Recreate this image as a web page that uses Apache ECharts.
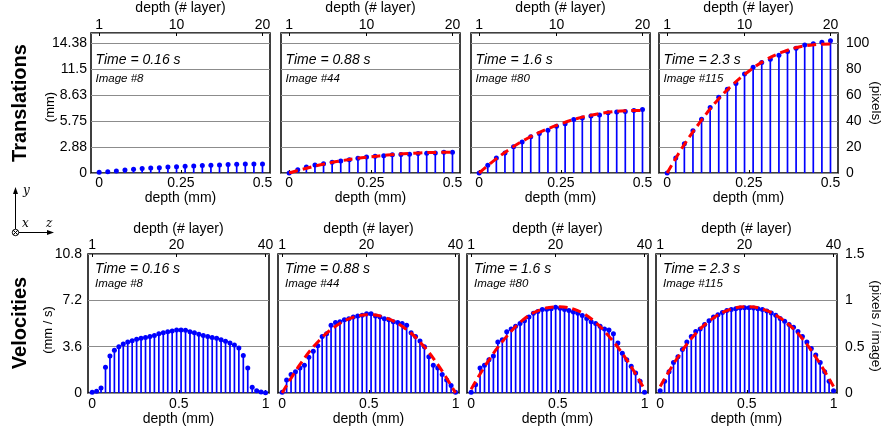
<!DOCTYPE html>
<html>
<head>
<meta charset="utf-8">
<script src="https://cdn.jsdelivr.net/npm/echarts@6/dist/echarts.min.js"></script>
<style>
  html, body { margin: 0; padding: 0; background: #fff; }
  #chart { width: 883px; height: 433px; }
</style>
</head>
<body>
<div id="chart"></div>
<script>
// captions of the four columns
const times = ["0.16", "0.88", "1.6", "2.3"];
const images = ["8", "44", "80", "115"];

// translations in pixels, one stem per layer (20 layers)
const trans1 = [0.5, 1, 1.5, 2.3, 2.8, 3.4, 3.9, 4.1, 4.7, 4.9, 5.2, 5.4, 5.7, 6, 6.2, 6.5, 6.7, 7, 7, 7];
const trans2 = [0, 2.6, 4.7, 6.2, 7.2, 8.3, 9.3, 10.3, 11.4, 12.4, 12.9, 13.4, 14, 14.2, 14.5, 15, 15.2, 15.5, 16, 16];
const trans3 = [0, 5.9, 11.6, 15.5, 20.2, 24, 28, 30.5, 33, 36, 38, 41.3, 42.4, 43.9, 44.7, 46.5, 47, 47.5, 48.3, 49];
const trans4 = [0, 11.5, 22.5, 32.5, 41.5, 50.5, 58.5, 64.7, 69, 76.3, 81.5, 85.2, 87.7, 90.8, 93.7, 96.2, 98.8, 99.7, 100.8, 102];

// dashed fits of the translations, sampled along depth (mm)
const transCurveDepth = [0, 0.05, 0.1, 0.15, 0.2, 0.25, 0.3, 0.35, 0.4, 0.45, 0.5];
const transCurve2 = [0, 3.5, 6.5, 9, 11, 12.5, 13.8, 14.8, 15.5, 15.9, 16];
const transCurve3 = [0, 10.5, 19.5, 27, 33, 38, 42, 45, 47, 48, 48.3];
const transCurve4 = [0, 21, 39, 55, 68, 78.5, 87, 93, 97, 99, 99.5];

// velocities in pixels / image, one stem per layer (40 layers)
const vel1 = [0.007, 0.02, 0.054, 0.277, 0.40, 0.46, 0.50, 0.53, 0.55, 0.565, 0.58, 0.59, 0.60, 0.61, 0.62, 0.64, 0.65, 0.66, 0.67, 0.68,
              0.68, 0.676, 0.66, 0.65, 0.633, 0.62, 0.61, 0.60, 0.59, 0.575, 0.558, 0.54, 0.518, 0.486, 0.406, 0.27, 0.061, 0.025, 0.011, 0.004];
const vel2 = [0.007, 0.14, 0.2, 0.23, 0.27, 0.3, 0.385, 0.45, 0.51, 0.61, 0.64, 0.73, 0.76, 0.77, 0.79, 0.80, 0.82, 0.83, 0.84, 0.856,
              0.856, 0.83, 0.82, 0.80, 0.79, 0.77, 0.76, 0.75, 0.73, 0.65, 0.61, 0.56, 0.5, 0.39, 0.30, 0.27, 0.2, 0.14, 0.08, 0.007];
const vel3 = [0.007, 0.09, 0.27, 0.3, 0.36, 0.4, 0.55, 0.575, 0.66, 0.69, 0.72, 0.75, 0.78, 0.82, 0.86, 0.88, 0.9, 0.905, 0.91, 0.925,
              0.915, 0.9, 0.89, 0.875, 0.86, 0.835, 0.805, 0.77, 0.75, 0.72, 0.69, 0.68, 0.64, 0.54, 0.43, 0.36, 0.29, 0.216, 0.126, 0.007];
const vel4 = [0.025, 0.126, 0.23, 0.33, 0.39, 0.47, 0.55, 0.61, 0.665, 0.69, 0.74, 0.78, 0.82, 0.845, 0.87, 0.89, 0.9, 0.91, 0.917, 0.92,
              0.92, 0.917, 0.91, 0.9, 0.885, 0.863, 0.84, 0.805, 0.775, 0.74, 0.71, 0.665, 0.61, 0.55, 0.48, 0.41, 0.33, 0.23, 0.126, 0.025];

// dashed fits of the velocities
const velCurveDepth = [0, 0.1, 0.2, 0.3, 0.4, 0.5, 0.6, 0.7, 0.8, 0.9, 1];
const velCurve2 = [0, 0.30, 0.54, 0.71, 0.81, 0.845, 0.81, 0.71, 0.54, 0.30, 0];
const velCurve3 = [0.04, 0.35, 0.6, 0.79, 0.9, 0.93, 0.9, 0.79, 0.6, 0.35, 0.04];
const velCurve4 = [0.07, 0.38, 0.63, 0.8, 0.9, 0.93, 0.9, 0.8, 0.63, 0.38, 0.07];

// ticks
const transDepthTicks = [0, 0.25, 0.5];
const transLayerTicks = [1, 10, 20];
const transMmLabels = ["0", "2.88", "5.75", "8.63", "11.5", "14.38"];
const transPixelLabels = ["0", "20", "40", "60", "80", "100"];
const velDepthTicks = [0, 0.5, 1];
const velLayerTicks = [1, 20, 40];
const velMmLabels = ["0", "3.6", "7.2", "10.8"];
const velPixelLabels = ["0", "0.5", "1", "1.5"];

const FONT = "Liberation Sans, Arial, Helvetica, sans-serif";
const BLUE = "#0000ff";
const RED = "#ff0000";

const rows = [
  {
    top: 33, height: 140, width: 179, lefts: [91, 281, 471, 659],
    dMin: -0.025, dMax: 0.523, dEnd: 0.5,
    stems: [trans1, trans2, trans3, trans4],
    curves: [null, transCurve2, transCurve3, transCurve4], curveDepth: transCurveDepth,
    depthTicks: transDepthTicks, layerTicks: transLayerTicks,
    yMax: 108, yStep: 20, leftLabels: transMmLabels, rightLabels: transPixelLabels,
    leftMargin: 4, capDx: 4.5, capY: [60, 79],
    xLabMargin: 3, xNameGap: 17, topLabMargin: 1, topNameGap: 17.5
  },
  {
    top: 254, height: 139, width: 181, lefts: [88, 278, 467, 656],
    dMin: -0.024, dMax: 1.02, dEnd: 1,
    stems: [vel1, vel2, vel3, vel4],
    curves: [null, velCurve2, velCurve3, velCurve4], curveDepth: velCurveDepth,
    depthTicks: velDepthTicks, layerTicks: velLayerTicks,
    yMax: 1.5, yStep: 0.5, leftLabels: velMmLabels, rightLabels: velPixelLabels,
    leftMargin: 6, capDx: 7, capY: [269, 284],
    xLabMargin: 4, xNameGap: 19.5, topLabMargin: 2, topNameGap: 18
  }
];

const grid = [], xAxis = [], yAxis = [], series = [], graphic = [];

function tickLabel(list, step) {
  return function (v) {
    const k = v / step;
    if (Math.abs(k - Math.round(k)) > 1e-6) return "";
    return list[Math.round(k)] || "";
  };
}

rows.forEach(function (row, r) {
  const n = row.stems[0].length;
  const layerMin = 1 + (n - 1) * row.dMin / row.dEnd;
  const layerMax = 1 + (n - 1) * row.dMax / row.dEnd;
  row.lefts.forEach(function (left, c) {
    const g = grid.length;
    grid.push({
      left: left, top: row.top, width: row.width, height: row.height,
      show: true, borderColor: "#000", borderWidth: 1.5, backgroundColor: "transparent"
    });
    // depth axis (bottom)
    xAxis.push({
      type: "value", gridIndex: g, position: "bottom",
      min: row.dMin, max: row.dMax,
      name: "depth (mm)", nameLocation: "middle", nameGap: row.xNameGap,
      nameTextStyle: { fontFamily: FONT, fontSize: 14, color: "#000" },
      axisLine: { show: false },
      axisTick: { show: true, inside: true, length: 3, customValues: row.depthTicks, lineStyle: { color: "#000" } },
      axisLabel: { customValues: row.depthTicks, margin: row.xLabMargin, fontFamily: FONT, fontSize: 14, color: "#000",
                   formatter: function (v) { return String(v); } },
      splitLine: { show: false }
    });
    // layer axis (top)
    xAxis.push({
      type: "value", gridIndex: g, position: "top",
      min: layerMin, max: layerMax,
      name: "depth (# layer)", nameLocation: "middle", nameGap: row.topNameGap,
      nameTextStyle: { fontFamily: FONT, fontSize: 14, color: "#000" },
      axisLine: { show: false },
      axisTick: { show: true, inside: true, length: 3, customValues: row.layerTicks, lineStyle: { color: "#000" } },
      axisLabel: { customValues: row.layerTicks, margin: row.topLabMargin, fontFamily: FONT, fontSize: 14, color: "#000" },
      splitLine: { show: false }
    });
    const isLeft = c === 0, isRight = c === row.lefts.length - 1;
    yAxis.push({
      type: "value", gridIndex: g, position: isRight ? "right" : "left",
      min: 0, max: row.yMax, interval: row.yStep,
      axisLine: { show: false }, axisTick: { show: false },
      axisLabel: {
        show: isLeft || isRight,
        margin: isRight ? 8 : row.leftMargin,
        fontFamily: FONT, fontSize: 14, color: "#000",
        formatter: tickLabel(isRight ? row.rightLabels : row.leftLabels, row.yStep)
      },
      splitLine: { show: true, lineStyle: { color: "#8c8c8c", width: 1.2 } }
    });

    const stems = row.stems[c].map(function (v, k) { return [k + 1, v]; });
    series.push({
      type: "bar", xAxisIndex: 2 * g + 1, yAxisIndex: g, data: stems,
      barWidth: 1.7, itemStyle: { color: BLUE, opacity: 1 }, silent: true, z: 2
    });
    series.push({
      type: "scatter", xAxisIndex: 2 * g + 1, yAxisIndex: g, data: stems,
      symbolSize: 5, itemStyle: { color: BLUE, opacity: 1 }, silent: true, z: 3
    });
    if (row.curves[c]) {
      series.push({
        type: "line", xAxisIndex: 2 * g, yAxisIndex: g,
        data: row.curveDepth.map(function (d, k) { return [d, row.curves[c][k]]; }),
        smooth: 0.4, showSymbol: false, silent: true, z: 4,
        lineStyle: { color: RED, width: 3, type: [9, 5] }
      });
    }
    graphic.push({
      type: "text", x: left + row.capDx, y: row.capY[0],
      style: { text: "Time = " + times[c] + " s", font: "italic 14px " + FONT, fill: "#000",
               textAlign: "left", textVerticalAlign: "middle" }
    });
    graphic.push({
      type: "text", x: left + row.capDx, y: row.capY[1],
      style: { text: "Image #" + images[c], font: "italic 11.5px " + FONT, fill: "#000",
               textAlign: "left", textVerticalAlign: "middle" }
    });
  });
});

// row titles and unit labels
function vText(text, x, y, font, rot) {
  return { type: "text", x: x, y: y, rotation: rot,
           style: { text: text, font: font, fill: "#000", textAlign: "center", textVerticalAlign: "middle" } };
}
graphic.push(vText("Translations", 20, 103, "bold 20px " + FONT, Math.PI / 2));
graphic.push(vText("(mm)", 50, 107, "13px " + FONT, Math.PI / 2));
graphic.push(vText("(pixels)", 876, 103, "13.5px " + FONT, -Math.PI / 2));
graphic.push(vText("Velocities", 20, 323, "bold 20px " + FONT, Math.PI / 2));
graphic.push(vText("(mm / s)", 48, 330, "13px " + FONT, Math.PI / 2));
graphic.push(vText("(pixels / image)", 876, 326, "13.5px " + FONT, -Math.PI / 2));

// small axis-orientation sketch
graphic.push({ type: "line", shape: { x1: 15.5, y1: 229, x2: 15.5, y2: 192 }, style: { stroke: "#000", lineWidth: 1 } });
graphic.push({ type: "polygon", shape: { points: [[15.5, 187], [13, 194], [18, 194]] }, style: { fill: "#000" } });
graphic.push({ type: "line", shape: { x1: 19, y1: 232.5, x2: 49, y2: 232.5 }, style: { stroke: "#000", lineWidth: 1 } });
graphic.push({ type: "polygon", shape: { points: [[54, 232.5], [47, 230], [47, 235]] }, style: { fill: "#000" } });
graphic.push({ type: "circle", shape: { cx: 15.5, cy: 232.5, r: 3.2 }, style: { stroke: "#000", fill: "#fff", lineWidth: 1 } });
graphic.push({ type: "line", shape: { x1: 13.2, y1: 230.2, x2: 17.8, y2: 234.8 }, style: { stroke: "#000", lineWidth: 1 } });
graphic.push({ type: "line", shape: { x1: 17.8, y1: 230.2, x2: 13.2, y2: 234.8 }, style: { stroke: "#000", lineWidth: 1 } });
graphic.push({ type: "text", x: 23, y: 191, style: { text: "y", font: "italic 12px DejaVu Serif, serif", fill: "#000", textAlign: "left", textVerticalAlign: "middle" } });
graphic.push({ type: "text", x: 22, y: 224, style: { text: "x", font: "italic 12px DejaVu Serif, serif", fill: "#000", textAlign: "left", textVerticalAlign: "middle" } });
graphic.push({ type: "text", x: 46, y: 224, style: { text: "z", font: "italic 12px DejaVu Serif, serif", fill: "#000", textAlign: "left", textVerticalAlign: "middle" } });

const chart = echarts.init(document.getElementById("chart"), null, { renderer: "canvas" });
chart.setOption({
  animation: false,
  backgroundColor: "#fff",
  grid: grid,
  xAxis: xAxis,
  yAxis: yAxis,
  series: series,
  graphic: graphic
});
</script>
</body>
</html>
